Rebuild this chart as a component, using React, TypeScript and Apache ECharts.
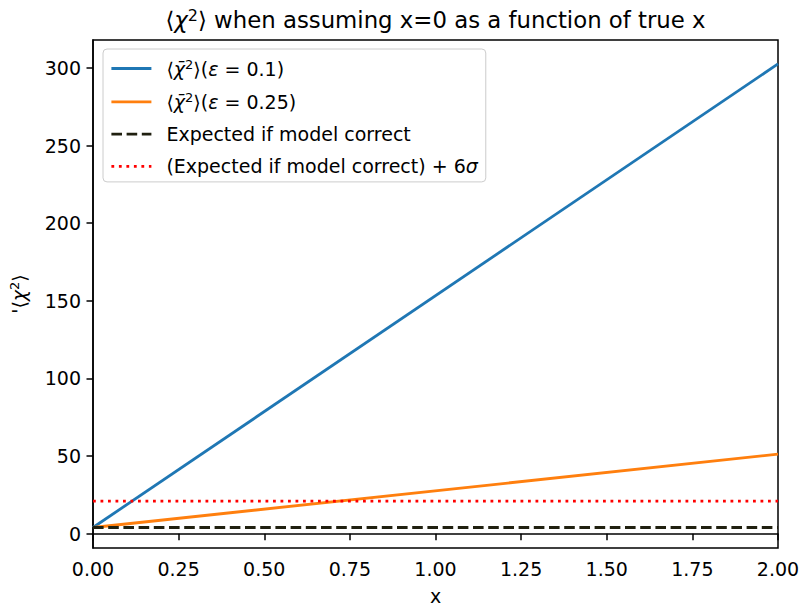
import React, { useEffect, useRef } from "react";
import * as echarts from "echarts";

const xTicks = [0, 0.25, 0.5, 0.75, 1.0, 1.25, 1.5, 1.75, 2.0];
const yTicks = [0, 50, 100, 150, 200, 250, 300];
const trueX = [0, 2];
const chi2Eps01 = [4, 302.6];
const chi2Eps025 = [4, 51.3];
const expectedCorrect = [4, 4];
const expectedPlus6Sigma = [20.97, 20.97];
const seriesNames = [
  "eps01",
  "eps025",
  "Expected if model correct",
  "(Expected if model correct) + 6σ",
];

const FONT = "DejaVu Sans";

export default function App() {
  const ref = useRef<HTMLDivElement>(null);
  useEffect(() => {
    document.body.style.margin = "0";
    const chart = echarts.init(ref.current!, null, { renderer: "svg" });
    const pts = (ys: number[]) => trueX.map((x, i) => [x, ys[i]]);
    const legendLabel: Record<string, string> = {
      eps01: "{n|⟨}{i|χ̄}{s|2}{n|⟩(}{i|ε}{n| = 0.1)}",
      eps025: "{n|⟨}{i|χ̄}{s|2}{n|⟩(}{i|ε}{n| = 0.25)}",
      "Expected if model correct": "{n|Expected if model correct}",
      "(Expected if model correct) + 6σ": "{n|(Expected if model correct) + 6}{i|σ}",
    };
    const fs = 19;
    const lw = 2.8;
    chart.setOption({
      animation: false,
      textStyle: { fontFamily: FONT },
      grid: {
        left: 93,
        right: 24,
        top: 40,
        bottom: 59,
        show: true,
        borderColor: "#000",
        borderWidth: 1.5,
        backgroundColor: "transparent",
        containLabel: false,
        outerBoundsMode: "none",
      },
      xAxis: {
        type: "value",
        min: 0,
        max: 2,
        name: "x",
        nameLocation: "middle",
        nameGap: 40,
        nameTextStyle: { fontSize: fs, color: "#000", fontFamily: FONT, lineHeight: 16 },
        axisLine: { lineStyle: { color: "#000", width: 1.5 } },
        axisTick: { length: 6.5, lineStyle: { color: "#000", width: 1.5 }, customValues: xTicks },
        axisLabel: {
          customValues: xTicks,
          fontSize: fs,
          color: "#000",
          fontFamily: FONT,
          margin: 11,
          formatter: (v: number) => v.toFixed(2),
        },
        splitLine: { show: false },
      },
      yAxis: {
        type: "value",
        min: -9.2,
        max: 318,
        name: "{n|'⟨}{i|χ}{s|2}{n|⟩}",
        nameLocation: "middle",
        nameRotate: 90,
        nameGap: 64,
        nameTextStyle: {
          fontSize: fs,
          color: "#000",
          fontFamily: FONT,
          rich: {
            n: { fontSize: fs, fontFamily: FONT, color: "#000" },
            i: { fontSize: fs, fontFamily: FONT, fontStyle: "italic", color: "#000" },
            s: { fontSize: 13, fontFamily: FONT, color: "#000", verticalAlign: "top", padding: [0, 0, 8, 0] },
          },
        },
        axisLine: { show: true, lineStyle: { color: "#000", width: 1.5 } },
        axisTick: { show: true, length: 6.5, lineStyle: { color: "#000", width: 1.5 }, customValues: yTicks },
        axisLabel: {
          customValues: yTicks,
          fontSize: fs,
          color: "#000",
          fontFamily: FONT,
          margin: 12,
        },
        splitLine: { show: false },
      },
      legend: {
        data: seriesNames,
        orient: "vertical",
        left: 103,
        top: 49,
        padding: [9, 8, 6, 7],
        itemWidth: 40,
        itemHeight: 14,
        itemGap: 13.3,
        backgroundColor: "rgba(255,255,255,0.8)",
        borderColor: "#cccccc",
        borderWidth: 1,
        borderRadius: 4,
        itemStyle: { opacity: 0 },
        lineStyle: { width: lw },
        formatter: (name: string) => legendLabel[name],
        textStyle: {
          padding: [0, 0, 0, 10],
          rich: {
            n: { fontSize: fs, fontFamily: FONT, color: "#000" },
            i: { fontSize: fs, fontFamily: FONT, fontStyle: "italic", color: "#000" },
            s: { fontSize: 13, fontFamily: FONT, color: "#000", verticalAlign: "top", padding: [0, 0, 8, 0] },
          },
        },
      },
      graphic: [
        {
          type: "text",
          x: 435.5,
          y: 20,
          style: {
            rich: {
              n: { fontSize: 22.8, fontFamily: FONT, fill: "#000" },
              i: { fontSize: 22.8, fontFamily: FONT, fontStyle: "italic", fill: "#000" },
              s: { fontSize: 16, fontFamily: FONT, fill: "#000", verticalAlign: "top", padding: [0, 0, 9, 0] },
            },
            text: "{n|⟨}{i|χ}{s|2}{n|⟩ when assuming x=0 as a function of true x}",
            fontSize: 22.8,
            fontFamily: FONT,
            fill: "#000",
            align: "center",
            verticalAlign: "middle",
          },
        },
      ],
      series: [
        {
          name: seriesNames[0],
          type: "line",
          data: pts(chi2Eps01),
          symbol: "none",
          lineStyle: { color: "#1f77b4", width: lw },
          itemStyle: { color: "#1f77b4" },
        },
        {
          name: seriesNames[1],
          type: "line",
          data: pts(chi2Eps025),
          symbol: "none",
          lineStyle: { color: "#ff7f0e", width: lw },
          itemStyle: { color: "#ff7f0e" },
        },
        {
          name: seriesNames[2],
          type: "line",
          data: pts(expectedCorrect),
          symbol: "none",
          lineStyle: { color: "#202010", width: lw, type: [10.6, 4.6] },
          itemStyle: { color: "#202010" },
        },
        {
          name: seriesNames[3],
          type: "line",
          data: pts(expectedPlus6Sigma),
          symbol: "none",
          lineStyle: { color: "#ff0000", width: lw, type: [2.8, 4.7] },
          itemStyle: { color: "#ff0000" },
        },
      ],
    });
    return () => chart.dispose();
  }, []);
  return <div ref={ref} style={{ width: 802, height: 607 }} />;
}
